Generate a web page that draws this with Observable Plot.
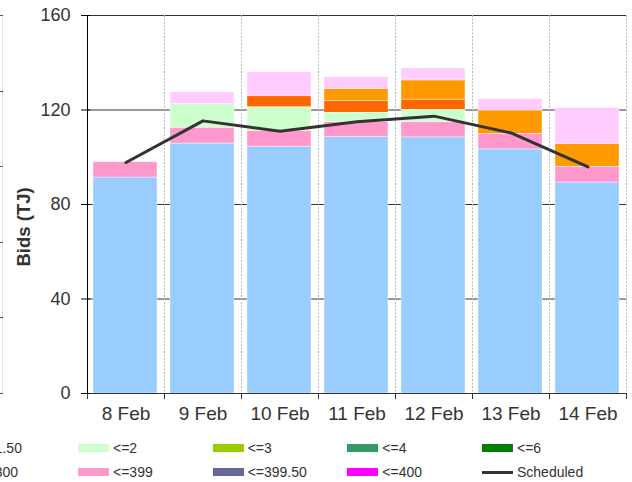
<!DOCTYPE html>
<html><head><meta charset="utf-8">
<script src="https://cdn.jsdelivr.net/npm/d3@7"></script>
<script src="https://cdn.jsdelivr.net/npm/@observablehq/plot@0.6"></script>
<style>
body{margin:0;background:#fff;font-family:"Liberation Sans",Arial,sans-serif;}
#wrap{position:relative;width:632px;height:482px;overflow:hidden;background:#fff;}
#chart{position:absolute;left:0;top:0;}
#edge{position:absolute;left:2px;top:15px;width:0;height:378px;border-left:1px dotted #c8c8c8;}
#edgeTicks{position:absolute;left:0;top:15px;width:3px;height:379px;
  background:repeating-linear-gradient(to bottom,#555 0 1px,transparent 1px 75.6px);}
.lg{position:absolute;font-size:14px;color:#333;white-space:nowrap;line-height:14px;}
.sw{position:absolute;width:31px;height:8px;}
</style></head><body>
<div id="wrap"><div id="edge"></div><div id="edgeTicks"></div><div id="chart"></div><div id="legend"></div></div>
<script>
const days = ["8 Feb","9 Feb","10 Feb","11 Feb","12 Feb","13 Feb","14 Feb"];
const yTicks = [0, 40, 80, 120, 160];

const seriesNames  = ["<=0","<=1","<=1.50","<=2","<=3","<=4","<=6","<=10","<=100","<=300","<=399","<=399.50","<=400"];
const seriesColors = ["#99CCFF","#FF6600","#FF9900","#CCFFCC","#99CC00","#339966","#008000","#CC99FF","#FFFF99","#FFCCFF","#FF99CC","#666699","#FF00FF"];
const stackOrder   = ["<=0","<=399","<=2","<=1","<=1.50","<=300","<=3","<=4","<=6","<=10","<=100","<=399.50","<=400"];

const bidsLe0      = [91.4, 105.8, 104.5, 108.5, 108.4, 103.3, 89.3];
const bidsLe1      = [0, 0, 4.7, 5.1, 4.4, 0, 0];
const bidsLe1_50   = [0, 0, 0, 5.0, 8.1, 9.9, 9.7];
const bidsLe2      = [0, 10.1, 10.1, 4.0, 5.2, 0, 0];
const bidsLe3      = [0, 0, 0, 0, 0, 0, 0];
const bidsLe4      = [0, 0, 0, 0, 0, 0, 0];
const bidsLe6      = [0, 0, 0, 0, 0, 0, 0];
const bidsLe10     = [0, 0, 0, 0, 0, 0, 0];
const bidsLe100    = [0, 0, 0, 0, 0, 0, 0];
const bidsLe300    = [0, 5.0, 10.2, 5.0, 5.1, 4.9, 15.2];
const bidsLe399    = [6.5, 6.6, 6.5, 6.3, 6.4, 6.6, 6.6];
const bidsLe399_50 = [0, 0, 0, 0, 0, 0, 0];
const bidsLe400    = [0, 0, 0, 0, 0, 0, 0];
const scheduled    = [97.8, 115.4, 111.0, 115.0, 117.4, 110.3, 95.9];

const seriesValues = [bidsLe0, bidsLe1, bidsLe1_50, bidsLe2, bidsLe3, bidsLe4, bidsLe6,
  bidsLe10, bidsLe100, bidsLe300, bidsLe399, bidsLe399_50, bidsLe400];

const table = [];
seriesNames.forEach((s, i) => seriesValues[i].forEach((v, j) => {
  if (v > 0) table.push({day: days[j], band: s, value: v});
}));
const schedTable = days.map((d, j) => ({day: d, value: scheduled[j]}));

const font = "Liberation Sans, Arial, sans-serif";
const chart = Plot.plot({
  width: 632, height: 432,
  marginLeft: 87, marginRight: 6, marginTop: 15, marginBottom: 39,
  style: {fontFamily: font, fontSize: "18px", color: "#333", background: "transparent", overflow: "visible"},
  x: {domain: days, padding: 0, axis: null, label: null},
  y: {domain: [0, 160], axis: null, label: null},
  color: {domain: seriesNames, range: seriesColors},
  marks: [
    Plot.ruleY(yTicks.slice(1), {stroke: "#333", strokeWidth: 1}),
    Plot.ruleX(days, {x: d => d, dx: 38.5, stroke: "#b8b8b8", strokeDasharray: "2,1.5"}),
    Plot.barY(table, {x: "day", y: "value", fill: "band", order: stackOrder,
      insetLeft: 6, insetRight: 7, stroke: "white", strokeWidth: 0.5, strokeOpacity: 0.8}),
    Plot.line(schedTable, {x: "day", y: "value", stroke: "#333", strokeWidth: 3}),
    Plot.frame({anchor: "left", stroke: "#000"}),
    Plot.frame({anchor: "bottom", stroke: "#333"}),
    Plot.axisY({ticks: yTicks, tickSize: 9, dx: 3, tickPadding: 11, fontSize: 18, stroke: "#000", fill: "#333", label: null}),
    Plot.axisX({tickSize: 6, dx: 38.5, tickFormat: () => "", stroke: "#333", label: null}),
    Plot.axisX({tickSize: 6, dx: -38.5, tickFormat: () => "", stroke: "#333", label: null}),
    Plot.axisX({tickSize: 0, tickPadding: 13, fontSize: 19, fill: "#333", label: null}),
    Plot.text(["Bids (TJ)"], {frameAnchor: "left", rotate: -90, dx: -63, dy: 62,
      fontWeight: "bold", fontSize: 18.5, fill: "#333"})
  ]
});
document.getElementById("chart").appendChild(chart);

// legend: 7 columns x 2 rows, row-major, partly cropped at left like the reference
const legendItems = [...seriesNames.map((s, i) => ({name: s, color: seriesColors[i]})), {name: "Scheduled", line: true}];
const colX0 = 78 - 3 * 134.67, colStep = 134.67, rowY0 = 444, rowStep = 24.3;
const lg = document.getElementById("legend");
legendItems.forEach((it, k) => {
  const col = k % 7, row = Math.floor(k / 7);
  const x = colX0 + col * colStep, y = rowY0 + row * rowStep;
  const sw = document.createElement("div");
  sw.className = "sw";
  sw.style.left = x + "px";
  if (it.line) { sw.style.top = (y + 2.5) + "px"; sw.style.height = "3px"; sw.style.background = "#333"; }
  else { sw.style.top = y + "px"; sw.style.background = it.color; }
  lg.appendChild(sw);
  const t = document.createElement("div");
  t.className = "lg";
  t.textContent = it.name;
  t.style.left = (x + 35) + "px";
  t.style.top = (y - 3) + "px";
  lg.appendChild(t);
});
</script>
</body></html>
